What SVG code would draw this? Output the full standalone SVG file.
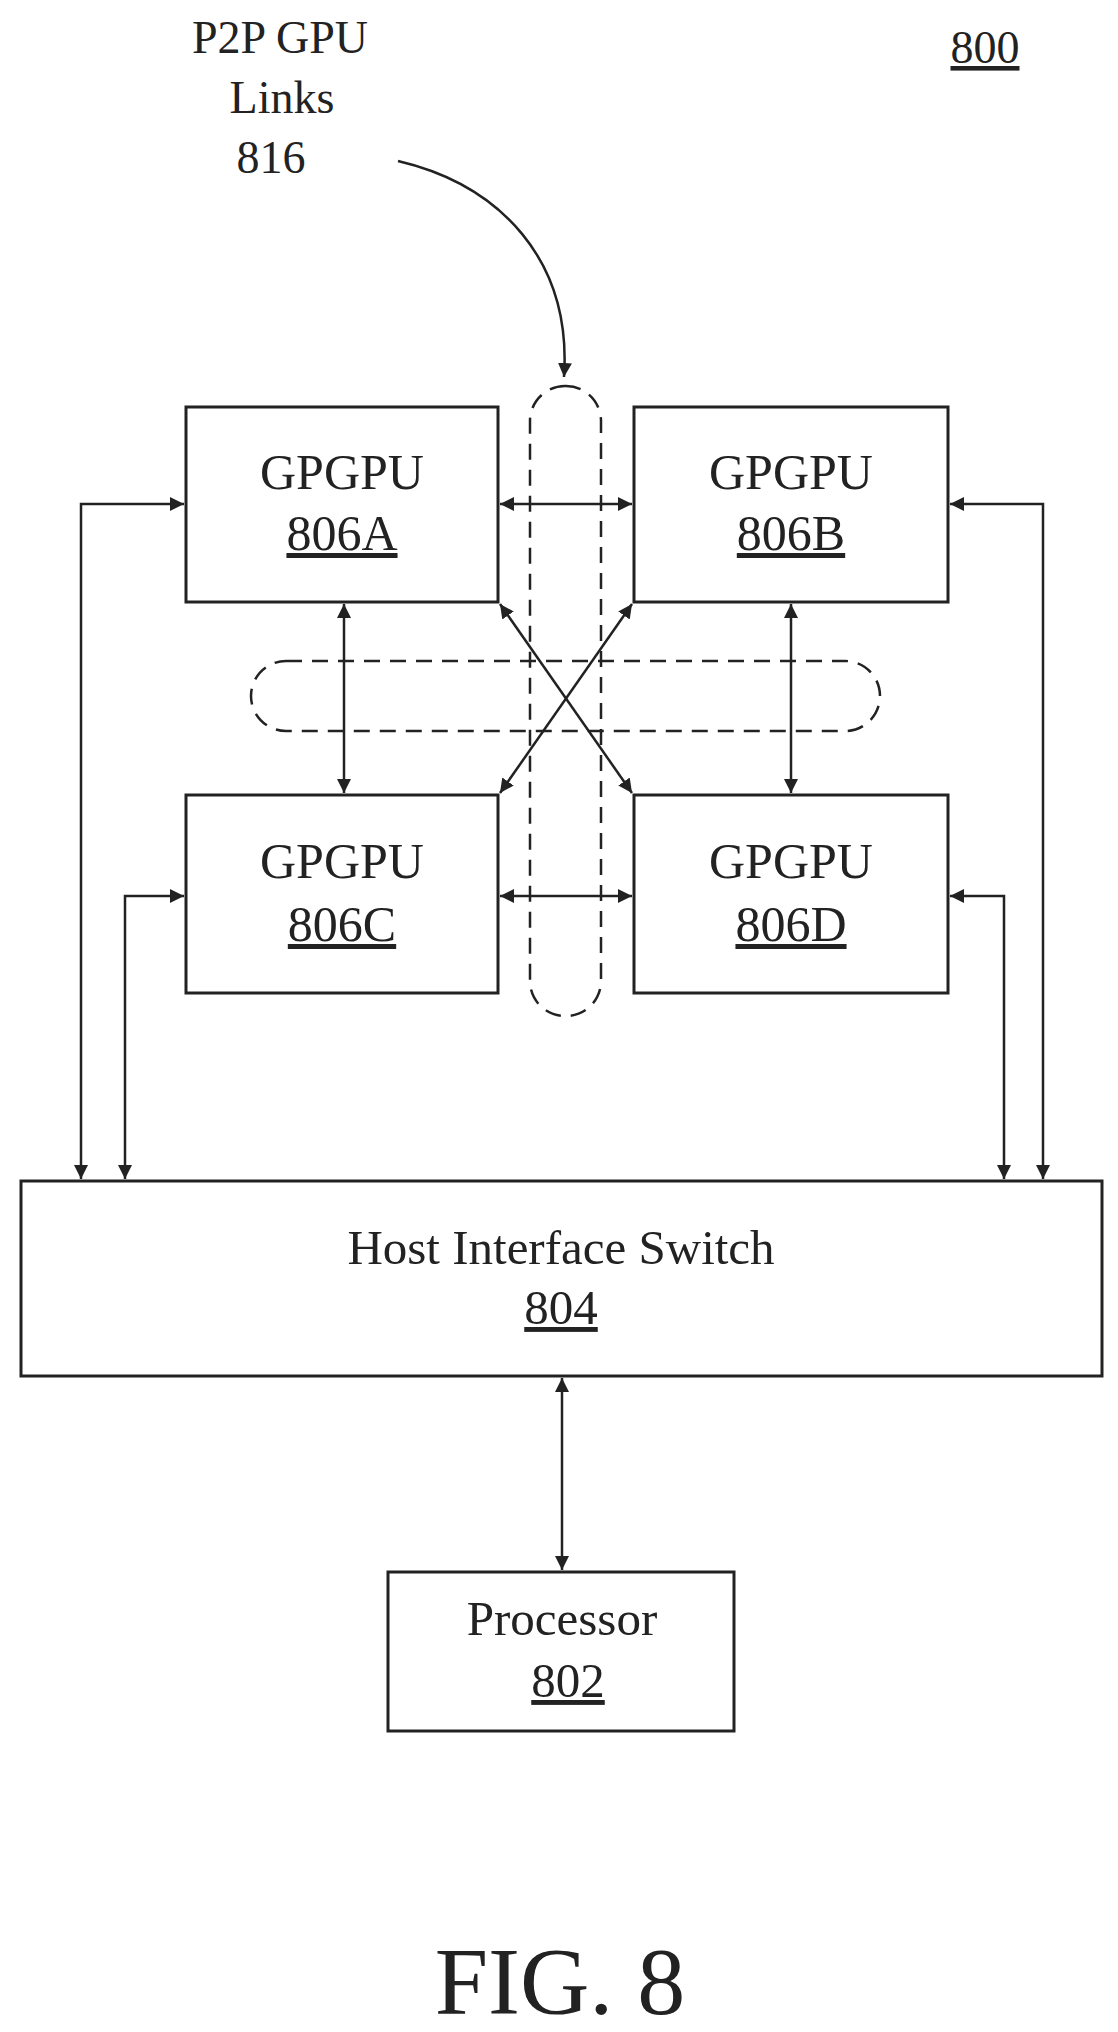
<svg xmlns="http://www.w3.org/2000/svg" width="1118" height="2032" viewBox="0 0 1118 2032">
<style>
.b{fill:none;stroke:#222;stroke-width:3}
.t{font-family:"Liberation Serif",serif;fill:#222;text-anchor:middle}
.c{fill:none;stroke:#222;stroke-width:2.5}
.d{fill:none;stroke:#222;stroke-width:2.5;stroke-dasharray:16,10}
</style>
<defs>
<marker id="ah" viewBox="0 0 10 10" refX="10" refY="5" markerWidth="14" markerHeight="14" markerUnits="userSpaceOnUse" orient="auto-start-reverse">
<path d="M0,0L10,5L0,10z" fill="#222"/>
</marker>
</defs>
<rect width="1118" height="2032" fill="#fff"/>
<text class="t" x="280" y="53" font-size="46">P2P GPU</text>
<text class="t" x="282" y="113" font-size="46">Links</text>
<text class="t" x="271" y="173" font-size="46">816</text>
<text class="t" x="985" y="63" font-size="46" text-decoration="underline">800</text>
<g id="gA"><rect class="b" x="186" y="407" width="312" height="195"/><text class="t" x="342" y="489" font-size="50">GPGPU</text><text class="t" x="342" y="550" font-size="50" text-decoration="underline">806A</text></g>
<g id="gB"><rect class="b" x="634" y="407" width="314" height="195"/><text class="t" x="791" y="489" font-size="50">GPGPU</text><text class="t" x="791" y="550" font-size="50" text-decoration="underline">806B</text></g>
<g id="gC"><rect class="b" x="186" y="795" width="312" height="198"/><text class="t" x="342" y="878" font-size="50">GPGPU</text><text class="t" x="342" y="941" font-size="50" text-decoration="underline">806C</text></g>
<g id="gD"><rect class="b" x="634" y="795" width="314" height="198"/><text class="t" x="791" y="878" font-size="50">GPGPU</text><text class="t" x="791" y="941" font-size="50" text-decoration="underline">806D</text></g>
<g id="host"><rect class="b" x="21" y="1181" width="1081" height="195"/><text class="t" x="561" y="1264" font-size="49">Host Interface Switch</text><text class="t" x="561" y="1324" font-size="49" text-decoration="underline">804</text></g>
<g id="proc"><rect class="b" x="388" y="1572" width="346" height="159"/><text class="t" x="562" y="1635" font-size="49">Processor</text><text class="t" x="568" y="1697" font-size="49" text-decoration="underline">802</text></g>
<g id="links">
<rect class="d" x="530" y="386" width="71" height="630" rx="35"/>
<rect class="d" x="251" y="661" width="629" height="70" rx="35"/>
</g>
<g id="connectors">
<path class="c" d="M398,161 C500,185 572,260 564,377" marker-end="url(#ah)"/>
<path class="c" d="M500,504H632" marker-start="url(#ah)" marker-end="url(#ah)"/>
<path class="c" d="M500,896H632" marker-start="url(#ah)" marker-end="url(#ah)"/>
<path class="c" d="M344,604V793" marker-start="url(#ah)" marker-end="url(#ah)"/>
<path class="c" d="M791,604V793" marker-start="url(#ah)" marker-end="url(#ah)"/>
<path class="c" d="M500,604L632,793" marker-start="url(#ah)" marker-end="url(#ah)"/>
<path class="c" d="M632,604L500,793" marker-start="url(#ah)" marker-end="url(#ah)"/>
<path class="c" d="M184,504H81V1179" marker-start="url(#ah)" marker-end="url(#ah)"/>
<path class="c" d="M184,896H125V1179" marker-start="url(#ah)" marker-end="url(#ah)"/>
<path class="c" d="M950,504H1043V1179" marker-start="url(#ah)" marker-end="url(#ah)"/>
<path class="c" d="M950,896H1004V1179" marker-start="url(#ah)" marker-end="url(#ah)"/>
<path class="c" d="M562,1378V1570" marker-start="url(#ah)" marker-end="url(#ah)"/>
</g>
<text class="t" x="560" y="2014" font-size="96">FIG. 8</text>
</svg>
